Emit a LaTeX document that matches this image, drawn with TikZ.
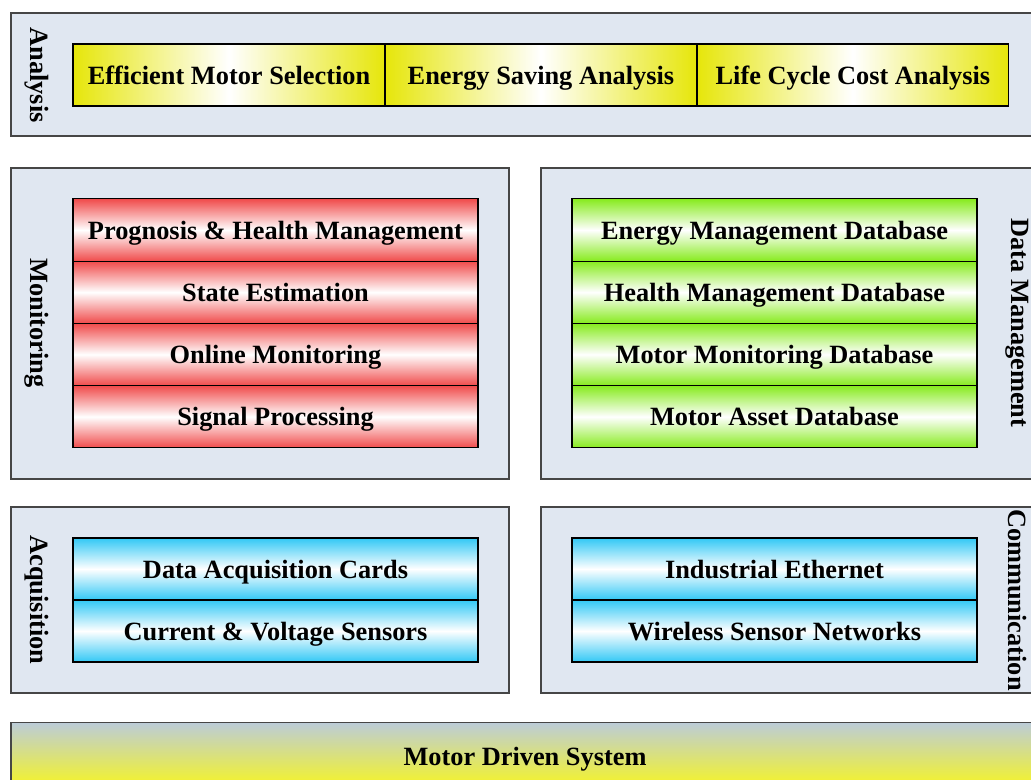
\documentclass[tikz,border=0pt]{standalone}
\usepackage{xcolor}
\usepackage{fontspec}
\setmainfont{Liberation Serif}
\usetikzlibrary{positioning}
\definecolor{panelcolor}{RGB}{224,231,241}
\definecolor{panelline}{RGB}{70,70,70}
\definecolor{yellowcolor}{RGB}{230,230,10}
\definecolor{redcolor}{RGB}{240,75,75}
\definecolor{greencolor}{RGB}{135,235,30}
\definecolor{bluecolor}{RGB}{50,200,245}
\definecolor{basetop}{RGB}{188,204,216}
\definecolor{basebottom}{RGB}{248,246,30}

\begin{document}
\begin{tikzpicture}[
    x=0.02cm, y=-0.02cm,
    every node/.style={font=\fontsize{15}{18}\selectfont\bfseries, inner sep=0pt, outer sep=0pt},
    rowtext/.style={text height=12pt, text depth=1.5pt},
    layer/.style={draw=panelline, line width=0.9pt, fill=panelcolor},
    analysis/.style={rowtext, draw, line width=0.7pt, left color=yellowcolor, right color=yellowcolor, middle color=white, minimum width=6.24cm, minimum height=1.24cm},
    monitoring/.style={rowtext, draw, line width=0.7pt, top color=redcolor, bottom color=redcolor, middle color=white, minimum width=8.1cm, minimum height=1.245cm},
    database/.style={rowtext, draw, line width=0.7pt, top color=greencolor, bottom color=greencolor, middle color=white, minimum width=8.1cm, minimum height=1.245cm},
    acquisition/.style={rowtext, draw, line width=0.7pt, top color=bluecolor, bottom color=bluecolor, middle color=white, minimum width=8.1cm, minimum height=1.24cm},
    sidelabel/.style={rotate=-90}
]
    \useasboundingbox (0,0) rectangle (1031,780);
    \clip (0,0) rectangle (1031,780);

    % Layer panels
    \draw[layer] (11,13) rectangle (1045,136);
    \draw[layer] (11,168) rectangle (509,479);
    \draw[layer] (541,168) rectangle (1045,479);
    \draw[layer] (11,507) rectangle (509,693);
    \draw[layer] (541,507) rectangle (1045,693);

    % Analysis layer
    \node[analysis] (selection) at (229,75) {Efficient Motor Selection};
    \node[analysis, right=0pt of selection] (saving) {Energy Saving Analysis};
    \node[analysis, right=0pt of saving] (lifecycle) {Life Cycle Cost Analysis};

    % Monitoring layer
    \node[monitoring] (prognosis) at (275.5,230) {Prognosis \& Health Management};
    \node[monitoring, below=0pt of prognosis] (estimation) {State Estimation};
    \node[monitoring, below=0pt of estimation] (online) {Online Monitoring};
    \node[monitoring, below=0pt of online] (signal) {Signal Processing};

    % Data management layer
    \node[database] (energydb) at (774.5,230) {Energy Management Database};
    \node[database, below=0pt of energydb] (healthdb) {Health Management Database};
    \node[database, below=0pt of healthdb] (monitordb) {Motor Monitoring Database};
    \node[database, below=0pt of monitordb] (assetdb) {Motor Asset Database};

    % Acquisition and communication layers
    \node[acquisition] (cards) at (275.5,569) {Data Acquisition Cards};
    \node[acquisition, below=0pt of cards] (sensors) {Current \& Voltage Sensors};
    \node[acquisition] (ethernet) at (774.5,569) {Industrial Ethernet};
    \node[acquisition, below=0pt of ethernet] (wireless) {Wireless Sensor Networks};

    % Motor driven system
    \node[rowtext, draw=panelline, line width=0.9pt, top color=basetop, bottom color=basebottom,
          minimum width=20.56cm, minimum height=1.34cm] (motor) at (525,756) {Motor Driven System};

    % Layer labels
    \node[sidelabel] (analysislbl) at (37,75) {Analysis};
    \node[sidelabel] (monitorlbl) at (37,323) {Monitoring};
    \node[sidelabel] (acquirelbl) at (37,600) {Acquisition};
    \node[sidelabel] (datalbl) at (1017,323) {Data Management};
    \node[sidelabel] (commlbl) at (1017,600) {Communication};
\end{tikzpicture}
\end{document}
